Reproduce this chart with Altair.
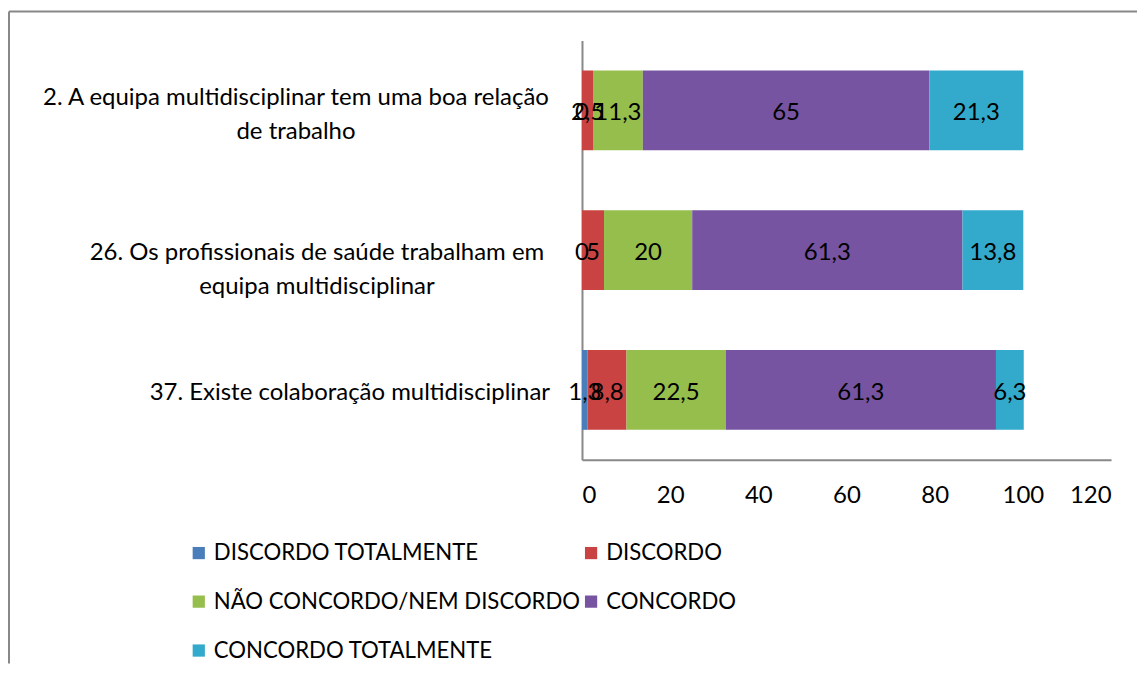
import altair as alt
import pandas as pd

categories = [
    "2. A equipa multidisciplinar tem uma boa relação de trabalho",
    "26. Os profissionais de saúde trabalham em equipa multidisciplinar",
    "37. Existe colaboração multidisciplinar",
]
category_lines = [
    ["2. A equipa multidisciplinar tem uma boa relação", "de trabalho"],
    ["26. Os profissionais de saúde trabalham em", "equipa multidisciplinar"],
    ["37. Existe colaboração multidisciplinar"],
]
label_pad = [287, 266, 233]
label_off = [-12, 3, 3]

series = ["DISCORDO TOTALMENTE", "DISCORDO", "NÃO CONCORDO/NEM DISCORDO",
          "CONCORDO", "CONCORDO TOTALMENTE"]
colors = ["#4A7EBB", "#C94343", "#96BE4C", "#7754A1", "#33AACB"]

discordo_totalmente = [0, 0, 1.3]
discordo = [2.5, 5, 8.8]
nao_concordo_nem_discordo = [11.3, 20, 22.5]
concordo = [65, 61.3, 61.3]
concordo_totalmente = [21.3, 13.8, 6.3]
x_ticks = [0, 20, 40, 60, 80, 100, 120]

FONT = "Lato"
FS = 24
LEG_FS = 22.2

values_by_series = [discordo_totalmente, discordo, nao_concordo_nem_discordo,
                    concordo, concordo_totalmente]
rows = []
for i, cat in enumerate(categories):
    for j, s in enumerate(series):
        v = values_by_series[j][i]
        rows.append({"categoria": cat, "serie": s, "ordem": j, "valor": v,
                     "rotulo": (f"{v:g}").replace(".", ",")})
df = pd.DataFrame(rows)

def js(s):
    return "'" + s.replace("'", "\\'") + "'"

expr = ""
for cat, lines in zip(categories[:-1], category_lines[:-1]):
    expr += f"datum.value == {js(cat)} ? [{', '.join(js(l) for l in lines)}] : "
expr += "[" + ", ".join(js(l) for l in category_lines[-1]) + "]"

def per_label(vals):
    return {
        "condition": [
            {"test": f"datum.value == {js(categories[0])}", "value": vals[0]},
            {"test": f"datum.value == {js(categories[1])}", "value": vals[1]},
        ],
        "value": vals[2],
    }

base = alt.Chart(df).transform_stack(
    stack="valor", groupby=["categoria"], as_=["v0", "v1"],
    sort=[alt.SortField("ordem", order="ascending")]
).transform_calculate(mid="(datum.v0 + datum.v1) / 2")

y_enc = alt.Y(
    "categoria:N", sort=categories, title=None,
    scale=alt.Scale(paddingInner=0.4286, paddingOuter=0.2143),
    axis=alt.Axis(labelExpr=expr, labelAlign="center", labelBaseline="middle",
                  labelPadding=per_label(label_pad),
                  labelOffset=per_label(label_off),
                  labelLimit=0, ticks=False,
                  labelFont=FONT, labelFontSize=FS, labelColor="black",
                  labelLineHeight=34, domainColor="#888888", domainWidth=2),
)

bars = base.mark_bar().encode(
    x=alt.X("v0:Q", title=None,
            scale=alt.Scale(domain=[0, 120], nice=False),
            axis=alt.Axis(values=x_ticks, ticks=False, grid=False,
                          labelFont=FONT, labelFontSize=FS, labelColor="black",
                          labelPadding=24, domainColor="#888888", domainWidth=2)),
    x2="v1:Q",
    y=y_enc,
    color=alt.Color("serie:N", sort=series,
                    scale=alt.Scale(domain=series, range=colors),
                    legend=alt.Legend(orient="none", legendX=-395, legendY=502,
                                      direction="horizontal",
                                      columns=2, title=None, symbolType="square",
                                      symbolSize=150, symbolStrokeWidth=0,
                                      labelFont=FONT, labelFontSize=LEG_FS,
                                      labelColor="black", columnPadding=0,
                                      rowPadding=26, labelLimit=0, padding=0,
                                      labelOffset=4)),
    order=alt.Order("ordem:Q"),
)

texts = base.mark_text(font=FONT, fontSize=FS, color="black",
                       align="center", baseline="middle", dy=3).encode(
    x="mid:Q",
    y=alt.Y("categoria:N", sort=categories),
    text="rotulo:N",
)

frame_df = pd.DataFrame({"k": [0]})
frame_top = alt.Chart(frame_df).mark_rule(color="#888888", strokeWidth=2).encode(
    x=alt.value(-574), x2=alt.value(556), y=alt.value(-29))
frame_left = alt.Chart(frame_df).mark_rule(color="#888888", strokeWidth=2).encode(
    x=alt.value(-574), y=alt.value(-29), y2=alt.value(624))

chart = alt.layer(bars, texts, frame_top, frame_left).properties(
    width=530, height=420,
    padding={"left": 0, "top": 2, "right": 0, "bottom": 0},
    background="white",
).configure_view(stroke=None)

chart.save("out.html", embed_options={"renderer": "svg", "actions": False})
